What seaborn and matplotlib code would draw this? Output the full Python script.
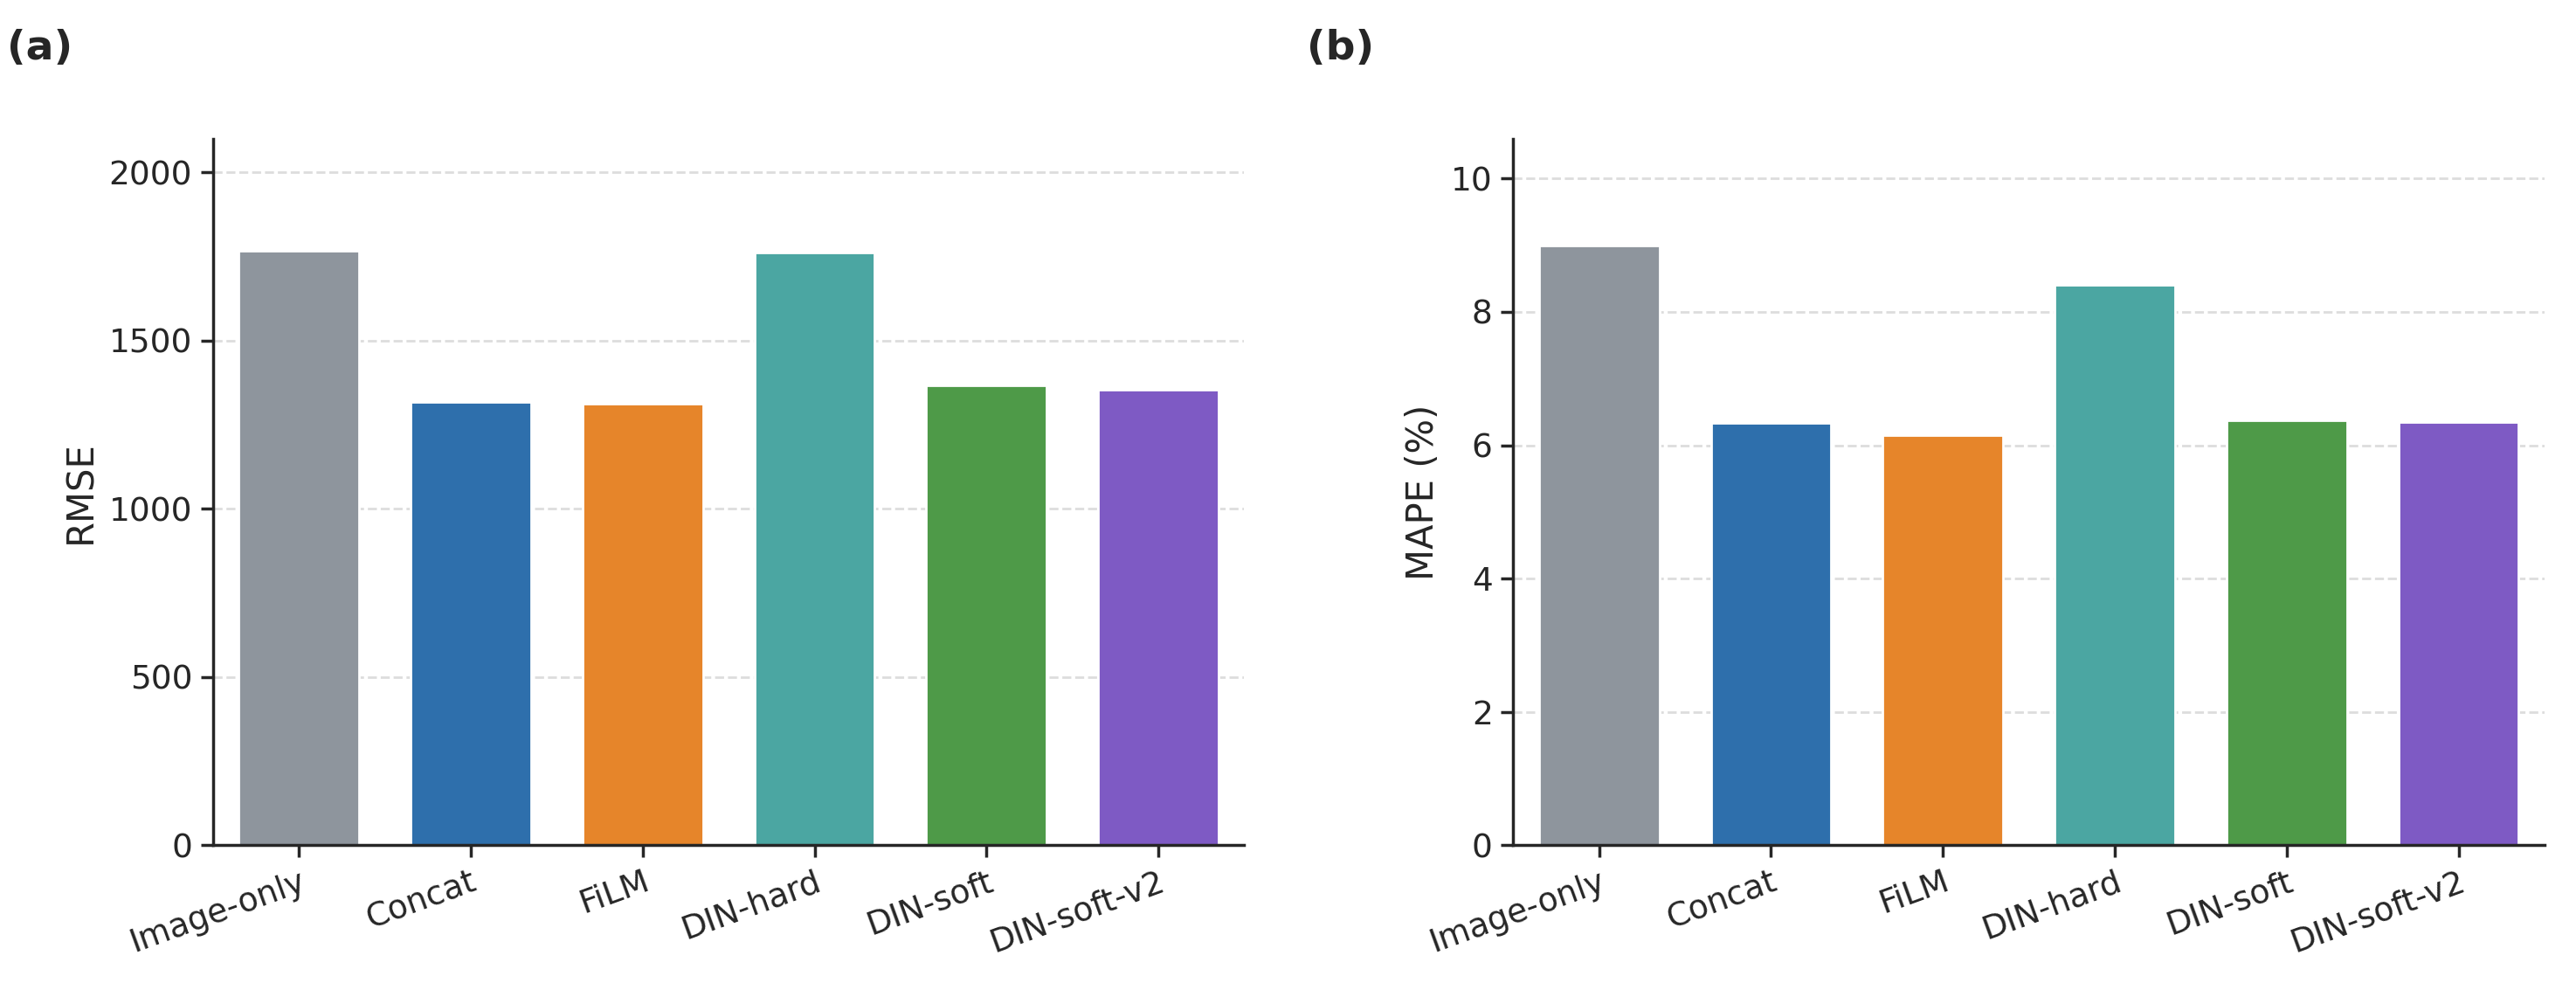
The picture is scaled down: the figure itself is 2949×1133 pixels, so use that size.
import matplotlib
matplotlib.use("Agg")
import matplotlib.pyplot as plt
import seaborn as sns
import pandas as pd

sns.set_theme(style="ticks")
plt.rcParams['font.family'] = ['DejaVu Sans']

models = ["Image-only", "Concat", "FiLM", "DIN-hard", "DIN-soft", "DIN-soft-v2"]
rmse = [1766, 1318, 1313, 1761, 1368, 1353]
mape = [8.99, 6.33, 6.15, 8.41, 6.38, 6.35]
colors = ["#8E959D", "#2E6FAC", "#E6852A", "#4BA6A2", "#4E9A48", "#7E5AC4"]

df = pd.DataFrame({"model": models, "RMSE": rmse, "MAPE": mape})

fig, axes = plt.subplots(1, 2, figsize=(14.745, 5.665), dpi=200)
panels = [("RMSE", "RMSE", "(a)", (0, 2100), [0, 500, 1000, 1500, 2000]),
          ("MAPE", "MAPE (%)", "(b)", (0, 10.6), [0, 2, 4, 6, 8, 10])]

for ax, (col, ylabel, tag, ylim, ticks) in zip(axes, panels):
    sns.barplot(data=df, x="model", y=col, hue="model", palette=colors,
                legend=False, width=0.7, saturation=1, ax=ax)
    ax.set_ylim(*ylim)
    ax.set_yticks(ticks)
    ax.set_ylabel(ylabel, fontsize=15)
    ax.set_xlabel("")
    ax.yaxis.grid(True, linestyle="--", color="#dddddd", linewidth=1)
    ax.set_axisbelow(True)
    sns.despine(ax=ax)
    ax.tick_params(axis="both", labelsize=13.5, length=5)
    plt.setp(ax.get_xticklabels(), rotation=20, ha="right", rotation_mode="anchor")
    ax.text(-0.2, 1.1, tag, transform=ax.transAxes, fontsize=17,
            fontweight="bold", va="bottom", ha="left")

plt.tight_layout(w_pad=3)
fig.subplots_adjust(top=0.86)
fig.savefig("out.png", dpi=200)
